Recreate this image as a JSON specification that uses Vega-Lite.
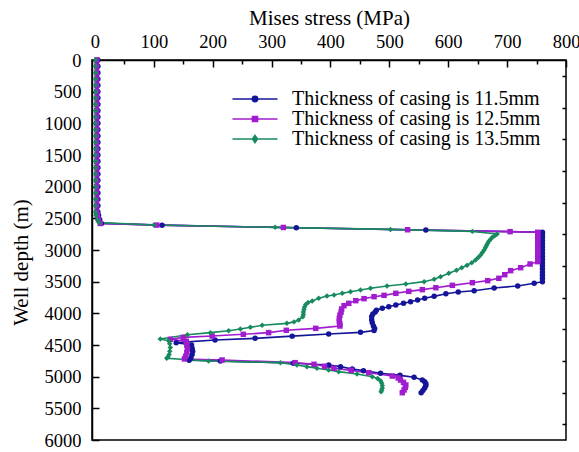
{
  "$schema": "https://vega.github.io/schema/vega-lite/v6.json",
  "width": 474,
  "height": 380,
  "autosize": {"type": "none"},
  "padding": {"left": 92, "top": 60, "right": 13, "bottom": 12},
  "background": "white",
  "config": {
    "font": "Liberation Serif",
    "style": {"guide-label": {"font": "Liberation Serif"}, "guide-title": {"font": "Liberation Serif"}},
    "view": {"stroke": "black", "strokeWidth": 1.5},
    "axis": {"domainColor": "black", "domainWidth": 1.5, "tickColor": "black", "tickWidth": 1.5, "labelColor": "black", "titleColor": "black", "grid": false, "labelFont": "Liberation Serif", "titleFont": "Liberation Serif", "labelFontSize": 18.5, "titleFontSize": 21, "titleFontWeight": "normal", "labelOverlap": false, "labelFlush": false}
  },
  "data": {"values": [
    {"casing":"11.5mm","stress":5,"depth":0},{"casing":"11.5mm","stress":5,"depth":100},{"casing":"11.5mm","stress":5,"depth":200},{"casing":"11.5mm","stress":5,"depth":300},{"casing":"11.5mm","stress":5,"depth":400},{"casing":"11.5mm","stress":5,"depth":500},{"casing":"11.5mm","stress":5,"depth":600},{"casing":"11.5mm","stress":5,"depth":700},{"casing":"11.5mm","stress":5,"depth":800},{"casing":"11.5mm","stress":5,"depth":900},{"casing":"11.5mm","stress":5,"depth":1000},{"casing":"11.5mm","stress":5,"depth":1100},{"casing":"11.5mm","stress":5,"depth":1200},{"casing":"11.5mm","stress":5,"depth":1300},{"casing":"11.5mm","stress":5,"depth":1400},{"casing":"11.5mm","stress":5,"depth":1500},{"casing":"11.5mm","stress":5,"depth":1600},{"casing":"11.5mm","stress":5,"depth":1700},{"casing":"11.5mm","stress":5,"depth":1800},{"casing":"11.5mm","stress":5,"depth":1900},{"casing":"11.5mm","stress":5,"depth":2000},{"casing":"11.5mm","stress":5,"depth":2100},{"casing":"11.5mm","stress":5,"depth":2200},{"casing":"11.5mm","stress":5,"depth":2300},{"casing":"11.5mm","stress":5,"depth":2400},
    {"casing":"11.5mm","stress":6,"depth":2450},{"casing":"11.5mm","stress":8,"depth":2520},{"casing":"11.5mm","stress":11,"depth":2580},{"casing":"11.5mm","stress":114,"depth":2608},{"casing":"11.5mm","stress":342,"depth":2648},{"casing":"11.5mm","stress":562,"depth":2686},{"casing":"11.5mm","stress":760,"depth":2720},
    {"casing":"11.5mm","stress":760,"depth":2750},{"casing":"11.5mm","stress":760,"depth":2800},{"casing":"11.5mm","stress":760,"depth":2850},{"casing":"11.5mm","stress":760,"depth":2900},{"casing":"11.5mm","stress":760,"depth":2950},{"casing":"11.5mm","stress":760,"depth":3000},{"casing":"11.5mm","stress":760,"depth":3050},{"casing":"11.5mm","stress":760,"depth":3100},{"casing":"11.5mm","stress":760,"depth":3150},{"casing":"11.5mm","stress":760,"depth":3200},{"casing":"11.5mm","stress":760,"depth":3250},{"casing":"11.5mm","stress":760,"depth":3300},{"casing":"11.5mm","stress":760,"depth":3350},{"casing":"11.5mm","stress":760,"depth":3400},{"casing":"11.5mm","stress":760,"depth":3450},{"casing":"11.5mm","stress":760,"depth":3500},
    {"casing":"11.5mm","stress":746,"depth":3526},{"casing":"11.5mm","stress":718,"depth":3568},{"casing":"11.5mm","stress":678,"depth":3600},{"casing":"11.5mm","stress":644,"depth":3643},{"casing":"11.5mm","stress":617,"depth":3663},{"casing":"11.5mm","stress":596,"depth":3690},{"casing":"11.5mm","stress":576,"depth":3732},{"casing":"11.5mm","stress":560,"depth":3762},{"casing":"11.5mm","stress":548,"depth":3790},{"casing":"11.5mm","stress":536,"depth":3816},{"casing":"11.5mm","stress":524,"depth":3842},{"casing":"11.5mm","stress":511,"depth":3868},{"casing":"11.5mm","stress":499,"depth":3895},{"casing":"11.5mm","stress":488,"depth":3920},{"casing":"11.5mm","stress":478,"depth":3950},{"casing":"11.5mm","stress":476,"depth":3980},{"casing":"11.5mm","stress":472,"depth":4010},{"casing":"11.5mm","stress":470,"depth":4050},{"casing":"11.5mm","stress":470,"depth":4100},{"casing":"11.5mm","stress":471,"depth":4150},{"casing":"11.5mm","stress":473,"depth":4200},{"casing":"11.5mm","stress":475,"depth":4240},{"casing":"11.5mm","stress":474,"depth":4270},
    {"casing":"11.5mm","stress":451,"depth":4300},{"casing":"11.5mm","stress":397,"depth":4326},{"casing":"11.5mm","stress":335,"depth":4360},{"casing":"11.5mm","stress":272,"depth":4395},{"casing":"11.5mm","stress":204,"depth":4421},{"casing":"11.5mm","stress":138,"depth":4463},{"casing":"11.5mm","stress":164,"depth":4500},{"casing":"11.5mm","stress":165,"depth":4550},{"casing":"11.5mm","stress":166,"depth":4600},{"casing":"11.5mm","stress":165,"depth":4650},{"casing":"11.5mm","stress":163,"depth":4700},{"casing":"11.5mm","stress":160,"depth":4740},
    {"casing":"11.5mm","stress":213,"depth":4753},{"casing":"11.5mm","stress":337,"depth":4789},{"casing":"11.5mm","stress":397,"depth":4816},{"casing":"11.5mm","stress":417,"depth":4842},{"casing":"11.5mm","stress":437,"depth":4879},{"casing":"11.5mm","stress":456,"depth":4905},{"casing":"11.5mm","stress":485,"depth":4947},{"casing":"11.5mm","stress":518,"depth":4979},{"casing":"11.5mm","stress":542,"depth":5010},{"casing":"11.5mm","stress":556,"depth":5053},{"casing":"11.5mm","stress":560,"depth":5080},{"casing":"11.5mm","stress":562,"depth":5110},{"casing":"11.5mm","stress":562,"depth":5140},{"casing":"11.5mm","stress":560,"depth":5180},{"casing":"11.5mm","stress":557,"depth":5220},{"casing":"11.5mm","stress":554,"depth":5253},

    {"casing":"12.5mm","stress":3,"depth":0},{"casing":"12.5mm","stress":3,"depth":100},{"casing":"12.5mm","stress":3,"depth":200},{"casing":"12.5mm","stress":3,"depth":300},{"casing":"12.5mm","stress":3,"depth":400},{"casing":"12.5mm","stress":3,"depth":500},{"casing":"12.5mm","stress":3,"depth":600},{"casing":"12.5mm","stress":3,"depth":700},{"casing":"12.5mm","stress":3,"depth":800},{"casing":"12.5mm","stress":3,"depth":900},{"casing":"12.5mm","stress":3,"depth":1000},{"casing":"12.5mm","stress":3,"depth":1100},{"casing":"12.5mm","stress":3,"depth":1200},{"casing":"12.5mm","stress":3,"depth":1300},{"casing":"12.5mm","stress":3,"depth":1400},{"casing":"12.5mm","stress":3,"depth":1500},{"casing":"12.5mm","stress":3,"depth":1600},{"casing":"12.5mm","stress":3,"depth":1700},{"casing":"12.5mm","stress":3,"depth":1800},{"casing":"12.5mm","stress":3,"depth":1900},{"casing":"12.5mm","stress":3,"depth":2000},{"casing":"12.5mm","stress":3,"depth":2100},{"casing":"12.5mm","stress":3,"depth":2200},{"casing":"12.5mm","stress":3,"depth":2300},{"casing":"12.5mm","stress":3,"depth":2400},
    {"casing":"12.5mm","stress":4,"depth":2450},{"casing":"12.5mm","stress":6,"depth":2520},{"casing":"12.5mm","stress":9,"depth":2580},{"casing":"12.5mm","stress":105,"depth":2607},{"casing":"12.5mm","stress":320,"depth":2644},{"casing":"12.5mm","stress":531,"depth":2680},{"casing":"12.5mm","stress":705,"depth":2710},{"casing":"12.5mm","stress":752,"depth":2720},
    {"casing":"12.5mm","stress":752,"depth":2750},{"casing":"12.5mm","stress":752,"depth":2800},{"casing":"12.5mm","stress":752,"depth":2850},{"casing":"12.5mm","stress":752,"depth":2900},{"casing":"12.5mm","stress":752,"depth":2950},{"casing":"12.5mm","stress":752,"depth":3000},{"casing":"12.5mm","stress":752,"depth":3050},{"casing":"12.5mm","stress":752,"depth":3100},{"casing":"12.5mm","stress":752,"depth":3150},{"casing":"12.5mm","stress":752,"depth":3184},
    {"casing":"12.5mm","stress":739,"depth":3221},{"casing":"12.5mm","stress":723,"depth":3279},{"casing":"12.5mm","stress":706,"depth":3326},{"casing":"12.5mm","stress":696,"depth":3390},{"casing":"12.5mm","stress":686,"depth":3447},{"casing":"12.5mm","stress":667,"depth":3484},{"casing":"12.5mm","stress":641,"depth":3516},{"casing":"12.5mm","stress":607,"depth":3558},{"casing":"12.5mm","stress":579,"depth":3595},{"casing":"12.5mm","stress":556,"depth":3626},{"casing":"12.5mm","stress":533,"depth":3653},{"casing":"12.5mm","stress":511,"depth":3684},{"casing":"12.5mm","stress":491,"depth":3716},{"casing":"12.5mm","stress":474,"depth":3737},{"casing":"12.5mm","stress":457,"depth":3768},{"casing":"12.5mm","stress":443,"depth":3800},{"casing":"12.5mm","stress":431,"depth":3842},{"casing":"12.5mm","stress":423,"depth":3879},{"casing":"12.5mm","stress":419,"depth":3932},{"casing":"12.5mm","stress":418,"depth":3980},{"casing":"12.5mm","stress":416,"depth":4030},{"casing":"12.5mm","stress":415,"depth":4080},{"casing":"12.5mm","stress":415,"depth":4130},{"casing":"12.5mm","stress":416,"depth":4170},{"casing":"12.5mm","stress":416,"depth":4200},
    {"casing":"12.5mm","stress":375,"depth":4237},{"casing":"12.5mm","stress":325,"depth":4268},{"casing":"12.5mm","stress":295,"depth":4305},{"casing":"12.5mm","stress":252,"depth":4331},{"casing":"12.5mm","stress":199,"depth":4358},{"casing":"12.5mm","stress":150,"depth":4379},{"casing":"12.5mm","stress":128,"depth":4410},{"casing":"12.5mm","stress":155,"depth":4440},{"casing":"12.5mm","stress":156,"depth":4500},{"casing":"12.5mm","stress":157,"depth":4560},{"casing":"12.5mm","stress":156,"depth":4620},{"casing":"12.5mm","stress":154,"depth":4680},{"casing":"12.5mm","stress":152,"depth":4720},
    {"casing":"12.5mm","stress":216,"depth":4737},{"casing":"12.5mm","stress":340,"depth":4779},{"casing":"12.5mm","stress":372,"depth":4805},{"casing":"12.5mm","stress":390,"depth":4835},{"casing":"12.5mm","stress":406,"depth":4868},{"casing":"12.5mm","stress":435,"depth":4900},{"casing":"12.5mm","stress":465,"depth":4937},{"casing":"12.5mm","stress":505,"depth":4990},{"casing":"12.5mm","stress":515,"depth":5020},{"casing":"12.5mm","stress":519,"depth":5053},{"casing":"12.5mm","stress":524,"depth":5090},{"casing":"12.5mm","stress":528,"depth":5132},{"casing":"12.5mm","stress":527,"depth":5170},{"casing":"12.5mm","stress":525,"depth":5210},{"casing":"12.5mm","stress":522,"depth":5253},

    {"casing":"13.5mm","stress":1,"depth":0},{"casing":"13.5mm","stress":1,"depth":100},{"casing":"13.5mm","stress":1,"depth":200},{"casing":"13.5mm","stress":1,"depth":300},{"casing":"13.5mm","stress":1,"depth":400},{"casing":"13.5mm","stress":1,"depth":500},{"casing":"13.5mm","stress":1,"depth":600},{"casing":"13.5mm","stress":1,"depth":700},{"casing":"13.5mm","stress":1,"depth":800},{"casing":"13.5mm","stress":1,"depth":900},{"casing":"13.5mm","stress":1,"depth":1000},{"casing":"13.5mm","stress":1,"depth":1100},{"casing":"13.5mm","stress":1,"depth":1200},{"casing":"13.5mm","stress":1,"depth":1300},{"casing":"13.5mm","stress":1,"depth":1400},{"casing":"13.5mm","stress":1,"depth":1500},{"casing":"13.5mm","stress":1,"depth":1600},{"casing":"13.5mm","stress":1,"depth":1700},{"casing":"13.5mm","stress":1,"depth":1800},{"casing":"13.5mm","stress":1,"depth":1900},{"casing":"13.5mm","stress":1,"depth":2000},{"casing":"13.5mm","stress":1,"depth":2100},{"casing":"13.5mm","stress":1,"depth":2200},{"casing":"13.5mm","stress":1,"depth":2300},{"casing":"13.5mm","stress":1,"depth":2400},
    {"casing":"13.5mm","stress":2,"depth":2450},{"casing":"13.5mm","stress":4,"depth":2520},{"casing":"13.5mm","stress":7,"depth":2568},{"casing":"13.5mm","stress":100,"depth":2606},{"casing":"13.5mm","stress":306,"depth":2642},{"casing":"13.5mm","stress":502,"depth":2675},{"casing":"13.5mm","stress":641,"depth":2706},{"casing":"13.5mm","stress":683,"depth":2747},
    {"casing":"13.5mm","stress":679,"depth":2775},{"casing":"13.5mm","stress":675,"depth":2800},{"casing":"13.5mm","stress":672,"depth":2830},{"casing":"13.5mm","stress":669,"depth":2860},{"casing":"13.5mm","stress":667,"depth":2895},{"casing":"13.5mm","stress":665,"depth":2930},{"casing":"13.5mm","stress":663,"depth":2965},{"casing":"13.5mm","stress":661,"depth":3000},{"casing":"13.5mm","stress":658,"depth":3040},{"casing":"13.5mm","stress":655,"depth":3080},{"casing":"13.5mm","stress":651,"depth":3120},{"casing":"13.5mm","stress":646,"depth":3160},{"casing":"13.5mm","stress":640,"depth":3200},{"casing":"13.5mm","stress":632,"depth":3240},{"casing":"13.5mm","stress":623,"depth":3280},{"casing":"13.5mm","stress":614,"depth":3320},{"casing":"13.5mm","stress":601,"depth":3368},{"casing":"13.5mm","stress":587,"depth":3421},{"casing":"13.5mm","stress":576,"depth":3463},{"casing":"13.5mm","stress":559,"depth":3500},{"casing":"13.5mm","stress":528,"depth":3537},{"casing":"13.5mm","stress":496,"depth":3568},{"casing":"13.5mm","stress":468,"depth":3605},{"casing":"13.5mm","stress":451,"depth":3632},{"casing":"13.5mm","stress":434,"depth":3658},{"casing":"13.5mm","stress":420,"depth":3684},{"casing":"13.5mm","stress":406,"depth":3711},{"casing":"13.5mm","stress":394,"depth":3726},{"casing":"13.5mm","stress":380,"depth":3763},{"casing":"13.5mm","stress":369,"depth":3805},{"casing":"13.5mm","stress":362,"depth":3830},{"casing":"13.5mm","stress":358,"depth":3860},{"casing":"13.5mm","stress":356,"depth":3900},{"casing":"13.5mm","stress":355,"depth":3940},{"casing":"13.5mm","stress":354,"depth":3980},{"casing":"13.5mm","stress":354,"depth":4020},{"casing":"13.5mm","stress":353,"depth":4053},{"casing":"13.5mm","stress":346,"depth":4105},{"casing":"13.5mm","stress":338,"depth":4135},{"casing":"13.5mm","stress":326,"depth":4158},
    {"casing":"13.5mm","stress":284,"depth":4189},{"casing":"13.5mm","stress":264,"depth":4221},{"casing":"13.5mm","stress":247,"depth":4247},{"casing":"13.5mm","stress":227,"depth":4274},{"casing":"13.5mm","stress":196,"depth":4305},{"casing":"13.5mm","stress":157,"depth":4337},{"casing":"13.5mm","stress":111,"depth":4405},{"casing":"13.5mm","stress":125,"depth":4432},{"casing":"13.5mm","stress":127,"depth":4480},{"casing":"13.5mm","stress":128,"depth":4540},{"casing":"13.5mm","stress":127,"depth":4600},{"casing":"13.5mm","stress":126,"depth":4650},{"casing":"13.5mm","stress":124,"depth":4690},{"casing":"13.5mm","stress":122,"depth":4711},
    {"casing":"13.5mm","stress":193,"depth":4753},{"casing":"13.5mm","stress":315,"depth":4779},{"casing":"13.5mm","stress":343,"depth":4816},{"casing":"13.5mm","stress":360,"depth":4842},{"casing":"13.5mm","stress":377,"depth":4868},{"casing":"13.5mm","stress":397,"depth":4895},{"casing":"13.5mm","stress":414,"depth":4921},{"casing":"13.5mm","stress":445,"depth":4958},{"casing":"13.5mm","stress":471,"depth":5000},{"casing":"13.5mm","stress":480,"depth":5030},{"casing":"13.5mm","stress":485,"depth":5065},{"casing":"13.5mm","stress":487,"depth":5100},{"casing":"13.5mm","stress":488,"depth":5140},{"casing":"13.5mm","stress":488,"depth":5180},{"casing":"13.5mm","stress":487,"depth":5210},{"casing":"13.5mm","stress":486,"depth":5237}
  ]},
  "layer": [
    {
      "mark": {"type": "line", "strokeWidth": 1.6},
      "encoding": {
        "x": {"field": "stress", "type": "quantitative", "scale": {"domain": [-5, 800], "nice": false, "zero": false},
          "axis": {"orient": "top", "title": "Mises stress (MPa)", "values": [0,100,200,300,400,500,600,700,800],
            "labelFont": "Liberation Serif", "titleFont": "Liberation Serif",
            "tickSize": -7, "labelPadding": 16, "titlePadding": 4}},
        "y": {"field": "depth", "type": "quantitative", "scale": {"domain": [0, 6000], "reverse": true, "nice": false},
          "axis": {"title": "Well depth (m)", "values": [0,500,1000,1500,2000,2500,3000,3500,4000,4500,5000,5500,6000],
            "labelFont": "Liberation Serif", "titleFont": "Liberation Serif",
            "format": "d", "tickSize": -7, "labelPadding": 18, "titleX": -61, "titleY": 202, "titleAlign": "center", "titleBaseline": "bottom", "titleAngle": -90}},
        "color": {"field": "casing", "type": "nominal", "scale": {"domain": ["11.5mm","12.5mm","13.5mm"], "range": ["#15159a","#a21ccf","#178a5e"]}, "legend": null},
        "order": {"value": null}
      }
    },
    {
      "mark": {"type": "point", "filled": true, "opacity": 1, "size": 30},
      "encoding": {
        "x": {"field": "stress", "type": "quantitative", "scale": {"domain": [-5, 800], "nice": false, "zero": false},
          "axis": {"orient": "top", "title": null, "values": [50,150,250,350,450,550,650,750], "labels": false, "domain": false, "tickSize": -4}},
        "y": {"field": "depth", "type": "quantitative", "scale": {"domain": [0, 6000], "reverse": true, "nice": false},
          "axis": {"title": null, "values": [250,750,1250,1750,2250,2750,3250,3750,4250,4750,5250,5750], "labels": false, "domain": false, "tickSize": -4}},
        "color": {"field": "casing", "type": "nominal", "scale": {"domain": ["11.5mm","12.5mm","13.5mm"], "range": ["#15159a","#a21ccf","#178a5e"]}, "legend": null},
        "shape": {"field": "casing", "type": "nominal", "scale": {"domain": ["11.5mm","12.5mm","13.5mm"], "range": ["circle","square","diamond"]}, "legend": null}
      }
    },
    {
      "data": {"values": [{"casing": "11.5mm"}, {"casing": "12.5mm"}, {"casing": "13.5mm"}]},
      "mark": {"type": "point", "filled": true, "size": 0, "strokeWidth": 1.5},
      "encoding": {
        "x": {"value": 0},
        "y": {"value": 0},
        "fill": {"field": "casing", "type": "nominal", "scale": {"domain": ["11.5mm","12.5mm","13.5mm"], "range": ["#15159a","#a21ccf","#178a5e"]},
          "legend": {"title": null, "orient": "none", "legendX": 153, "legendY": 29, "labelFontSize": 20, "labelColor": "black", "labelFont": "Liberation Serif", "labelLimit": 400, "symbolSize": 36, "symbolStrokeWidth": 1.5, "symbolOpacity": 1, "labelOffset": 27, "rowPadding": -2.5, "labelExpr": "'Thickness of casing is ' + datum.label"}},
        "stroke": {"field": "casing", "type": "nominal", "scale": {"domain": ["11.5mm","12.5mm","13.5mm"], "range": ["#15159a","#a21ccf","#178a5e"]},
          "legend": {"title": null, "orient": "none", "legendX": 153, "legendY": 29, "labelFontSize": 20, "labelColor": "black", "labelFont": "Liberation Serif", "labelLimit": 400, "symbolSize": 36, "symbolStrokeWidth": 1.5, "symbolOpacity": 1, "labelOffset": 27, "rowPadding": -2.5, "labelExpr": "'Thickness of casing is ' + datum.label"}},
        "shape": {"field": "casing", "type": "nominal", "scale": {"domain": ["11.5mm","12.5mm","13.5mm"], "range": ["M-7.5,0H7.5M0.9,0A0.9,0.9,0,1,1,-0.9,0A0.9,0.9,0,1,1,0.9,0Z", "M-7.5,0H7.5M-0.85,-0.85H0.85V0.85H-0.85Z", "M-7.5,0H7.5M0,-1.2L0.85,0L0,1.2L-0.85,0Z"]},
          "legend": {"title": null, "orient": "none", "legendX": 153, "legendY": 29, "labelFontSize": 20, "labelColor": "black", "labelFont": "Liberation Serif", "labelLimit": 400, "symbolSize": 36, "symbolStrokeWidth": 1.5, "symbolOpacity": 1, "labelOffset": 27, "rowPadding": -2.5, "labelExpr": "'Thickness of casing is ' + datum.label"}}
      }
    }
  ],
  "resolve": {"scale": {"shape": "independent", "fill": "independent", "stroke": "independent"}, "axis": {"x": "independent", "y": "independent"}}
}
